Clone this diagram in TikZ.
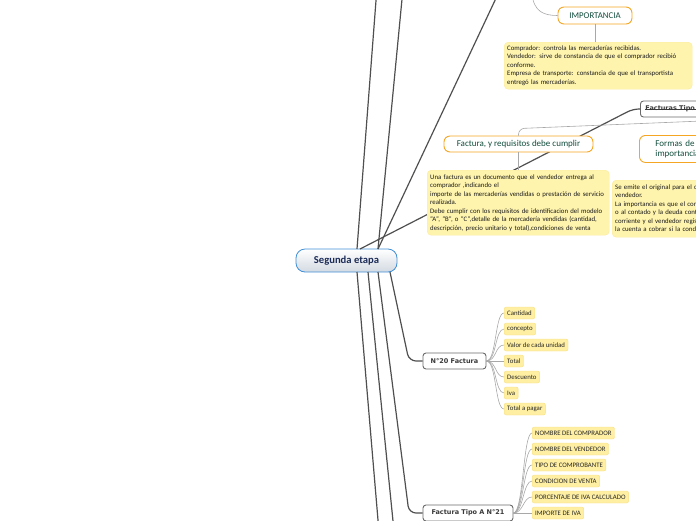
\documentclass[tikz,border=0pt]{standalone}
\usepackage{fontspec}
\setmainfont{Carlito}
\newfontfamily\verdfont{DejaVu Sans}
\usetikzlibrary{positioning}

\definecolor{branchgray}{HTML}{4F4F4F}
\definecolor{leafline}{HTML}{A8A8A8}
\definecolor{orangeedge}{HTML}{F5A623}
\definecolor{topicgreen}{HTML}{124D3C}
\definecolor{noteyellow}{HTML}{FFF4AE}
\definecolor{noteedge}{HTML}{FCEBA0}
\definecolor{leafyellow}{HTML}{FFEFA2}
\definecolor{leafedge}{HTML}{F7DE7E}
\definecolor{rootblue}{HTML}{3F8FD6}
\definecolor{rootnavy}{HTML}{1B2B57}
\definecolor{rootshade}{HTML}{D3DAE2}
\definecolor{boxgray}{HTML}{6A6A6A}
\definecolor{boxtext}{HTML}{3A3A3A}

\begin{document}
\begin{tikzpicture}[x=1pt,y=-1pt]
			\tikzstyle{Root}	= [rectangle, rounded corners=9pt, draw=rootblue, line width=0.8pt, top color=white, bottom color=rootshade, text=rootnavy, font=\fontsize{10.6}{12}\selectfont\bfseries, inner sep=0pt]
			\tikzstyle{Topic}	= [rectangle, rounded corners=6pt, draw=orangeedge, line width=0.9pt, fill=white, text=topicgreen, inner sep=0pt]
			\tikzstyle{Sub}		= [rectangle, rounded corners=3pt, draw=boxgray, line width=0.9pt, fill=white, text=boxtext, font=\verdfont\fontsize{6.5}{8}\selectfont\bfseries, inner sep=0pt]
			\tikzstyle{Note}	= [rectangle, rounded corners=4pt, draw=noteedge, fill=noteyellow, anchor=north west, align=left, inner xsep=3pt, inner ysep=3pt, font=\fontsize{6.8}{8.5}\selectfont, text=black!90]
			\tikzstyle{Leaf}	= [rectangle, rounded corners=2pt, draw=leafedge, fill=leafyellow, anchor=west, minimum height=12pt, inner xsep=3pt, inner ysep=0pt, font=\fontsize{6.8}{7}\selectfont, text=black!85]
			\tikzstyle{Branch}	= [branchgray, line width=1.2pt]
			\tikzstyle{Thin}	= [leafline, line width=0.6pt]
			
			\useasboundingbox (0,0) rectangle (696,520);
			\clip (0,0) rectangle (696,520);
			
			% ends of the branches that leave the picture
			\coordinate (up1) at (376.5,-6);
			\coordinate (up2) at (402.5,-6);
			\coordinate (up3) at (498,-6);
			\coordinate (down1) at (378.5,526);
			\coordinate (down2) at (393.5,526);
			\coordinate (impParent) at (532,-6);
			\coordinate (frParent) at (702,121);
			
			\node (root) at (346.5,260.5) [Root, minimum width=101pt, minimum height=23pt] {Segunda etapa};
			
			\draw [-] (357,249) to (up1) [Branch];
			\draw [-] (378,249) to (up2) [Branch];
			\draw [-] (378,249) to (up3) [Branch];
			\draw [-] (357,272) to (down1) [Branch];
			\draw [-] (368,272) to (down2) [Branch];
			
			% importancia
			\node (imp) at (595,15.5) [Topic, minimum width=74pt, minimum height=17pt, font=\fontsize{8.8}{10}\selectfont] {IMPORTANCIA};
			\node (impNote) at (504,42) [Note, text width=182pt, minimum height=47pt] {Comprador: controla las mercaderías recibidas.\\Vendedor: sirve de constancia de que el comprador recibió\\conforme.\\Empresa de transporte: constancia de que el transportista\\entregó las mercaderías.};
			\draw [-] (impParent) .. controls (534,12) and (544,15.5) .. (imp.west) [Thin];
			\draw [-] (imp.south) to (impNote.north -| imp.south) [Thin];
			
			% facturas tipo
			\node (ft) at (640,109) [Sub, anchor=west, minimum width=90pt, minimum height=16pt, inner xsep=5pt, align=left, text width=80pt] {Facturas Tipo};
			\draw [-, rounded corners=6pt] (360,249) -- (633,109) -- (ft.west) [Branch];
			\draw [-] ([xshift=5pt]ft.west) to (ft.east) [boxtext, line width=0.7pt];
			
			% factura y requisitos
			\node (fr) at (518.5,144) [Topic, minimum width=149pt, minimum height=16pt, font=\fontsize{9}{10}\selectfont] {Factura, y requisitos debe cumplir};
			\node (frNote) at (427,170) [Note, text width=176pt, minimum height=65pt] {Una factura es un documento que el vendedor entrega al\\comprador ,indicando el\\importe de las mercaderías vendidas o prestación de servicio\\realizada.\\Debe cumplir con los requisitos de identificacion del modelo\\``A'', ``B'', o ``C'',detalle de la mercadería vendidas (cantidad,\\descripción, precio unitario y total),condiciones de venta};
			\draw [-, rounded corners=6pt] (fr.north) -- ++(0,-7) -- (frParent) [Thin];
			\draw [-] (fr.south) to (frNote.north -| fr.south) [Thin];
			
			% formas de importancia
			\node (fi) at (639,135) [Topic, anchor=north west, minimum height=27pt, align=left, inner xsep=16pt, text width=96pt, font=\fontsize{9}{10.5}\selectfont] {Formas de pago y su\\importancia};
			\node (fiNote) at (612,180) [Note, text width=190pt, minimum height=57pt] {Se emite el original para el comprador y el duplicado para el\\vendedor.\\La importancia es que el comprador registra la compra\\o al contado y la deuda contraída en su cuenta\\corriente y el vendedor registra la venta y\\la cuenta a cobrar  si la condición es a plazo.};
			
			% N°20 factura
			\node (n20) at (454.5,361) [Sub, minimum width=63pt, minimum height=16pt] {N°20 Factura};
			\draw [-, rounded corners=7pt] (390,272) -- (409,361) -- (n20.west) [Branch];
			
			\node (cant) at (504,313) [Leaf] {Cantidad};
			\node (conc) at (504,329) [Leaf] {concepto};
			\node (valor) at (504,345) [Leaf] {Valor de cada unidad};
			\node (total) at (504,361) [Leaf] {Total};
			\node (desc) at (504,377) [Leaf] {Descuento};
			\node (iva) at (504,393) [Leaf] {Iva};
			\node (pagar) at (504,409) [Leaf] {Total a pagar};
			
			\draw [-] (n20.east) .. controls +(10,0) and +(-9,0) .. (cant.west) [Thin];
			\draw [-] (n20.east) .. controls +(10,0) and +(-9,0) .. (conc.west) [Thin];
			\draw [-] (n20.east) .. controls +(10,0) and +(-9,0) .. (valor.west) [Thin];
			\draw [-] (n20.east) to (total.west) [Thin];
			\draw [-] (n20.east) .. controls +(10,0) and +(-9,0) .. (desc.west) [Thin];
			\draw [-] (n20.east) .. controls +(10,0) and +(-9,0) .. (iva.west) [Thin];
			\draw [-] (n20.east) .. controls +(10,0) and +(-9,0) .. (pagar.west) [Thin];
			
			% factura tipo A
			\node (n21) at (468,513) [Sub, minimum width=90pt, minimum height=16pt] {Factura Tipo A N°21};
			\draw [-, rounded corners=7pt] (378,272) -- (409,513) -- (n21.west) [Branch];
			
			\node (nomc) at (532,433) [Leaf] {NOMBRE DEL COMPRADOR};
			\node (nomv) at (532,449) [Leaf] {NOMBRE DEL VENDEDOR};
			\node (tipo) at (532,465) [Leaf] {TIPO DE COMPROBANTE};
			\node (cond) at (532,481) [Leaf] {CONDICION DE VENTA};
			\node (porc) at (532,497) [Leaf] {PORCENTAJE DE IVA CALCULADO};
			\node (impiva) at (532,513) [Leaf] {IMPORTE DE IVA};
			
			\draw [-] (n21.east) .. controls +(10,0) and +(-9,0) .. (nomc.west) [Thin];
			\draw [-] (n21.east) .. controls +(10,0) and +(-9,0) .. (nomv.west) [Thin];
			\draw [-] (n21.east) .. controls +(10,0) and +(-9,0) .. (tipo.west) [Thin];
			\draw [-] (n21.east) .. controls +(10,0) and +(-9,0) .. (cond.west) [Thin];
			\draw [-] (n21.east) .. controls +(10,0) and +(-9,0) .. (porc.west) [Thin];
			\draw [-] (n21.east) to (impiva.west) [Thin];
		\end{tikzpicture}
\end{document}
